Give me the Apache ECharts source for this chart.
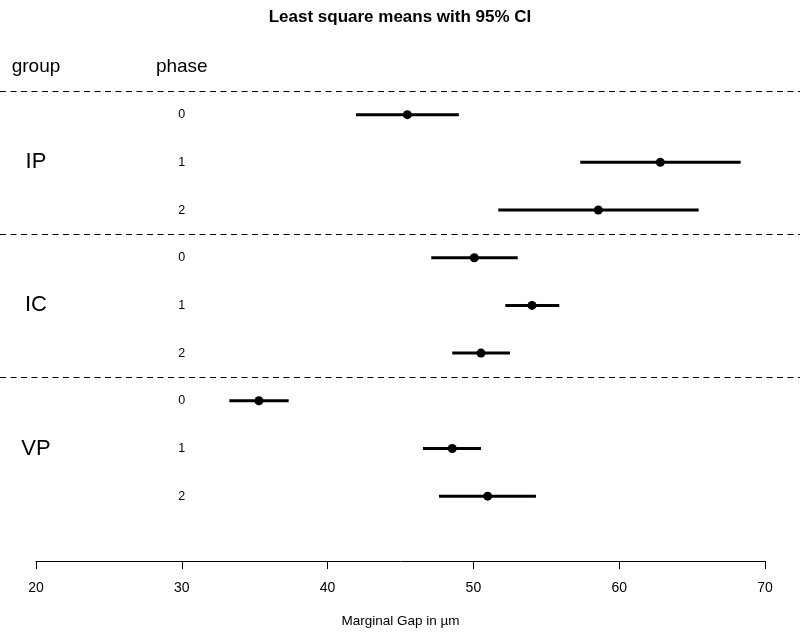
<!DOCTYPE html>
<html>
<head>
<meta charset="utf-8">
<script src="https://cdn.jsdelivr.net/npm/echarts@6/dist/echarts.min.js"></script>
<style>html,body{margin:0;padding:0;background:#fff}#c{width:800px;height:637px}</style>
</head>
<body>
<div id="c"></div>
<script>
// ---- data ----
const groups = ['IP', 'IC', 'VP'];
const phases = ['0', '1', '2', '0', '1', '2', '0', '1', '2'];
const means = [45.47, 62.82, 58.57, 50.06, 54.02, 50.52, 35.29, 48.55, 50.98];
const lower = [41.95, 57.33, 51.71, 47.11, 52.19, 48.55, 33.26, 46.54, 47.64];
const upper = [49.00, 68.33, 65.45, 53.04, 55.89, 52.51, 37.33, 50.52, 54.29];
const xTicks = [20, 30, 40, 50, 60, 70];
const headers = ['group', 'phase'];

// ---- layout helpers ----
const rowPos = phases.map((p, i) => i + 1);           // rows 1..9
const groupRow = groups.map((g, i) => i * 3 + 2);      // middle row of each group
const sepRows = groups.map((g, i) => i * 3 + 0.5);     // separators above each group
const yMax = 10.36;
const FONT = '"Liberation Sans", Arial, sans-serif';

const chart = echarts.init(document.getElementById('c'), null, {renderer: 'canvas'});

const labelSeries = (data, size) => ({
  type: 'scatter', xAxisIndex: 0, yAxisIndex: 0, symbolSize: 0, silent: true,
  itemStyle: {opacity: 1, color: '#000'},
  data: data,
  label: {show: true, position: [0, 0], align: 'center', verticalAlign: 'middle',
          formatter: p => p.name, fontFamily: FONT, fontSize: size, color: '#000'}
});

const option = {
  animation: false,
  backgroundColor: '#fff',
  title: {
    text: 'Least square means with 95% CI',
    left: 'center', top: 4,
    textStyle: {fontFamily: FONT, fontSize: 17, fontWeight: 'bold', color: '#000'}
  },
  grid: [
    {left: 36, right: 35, top: 67, bottom: 76},
    {left: 0, right: 0, top: 67, bottom: 76}
  ],
  xAxis: [
    {
      gridIndex: 0, type: 'value', min: xTicks[0], max: xTicks[xTicks.length - 1], interval: 10,
      name: 'Marginal Gap in \u00b5m', nameLocation: 'middle', nameGap: 53,
      nameTextStyle: {fontFamily: FONT, fontSize: 13.5, color: '#000'},
      axisLine: {show: true, onZero: false, lineStyle: {color: '#000', width: 1}},
      axisTick: {show: true, inside: false, length: 8, lineStyle: {color: '#000', width: 1}},
      axisLabel: {margin: 20, fontFamily: FONT, fontSize: 14, color: '#000'},
      splitLine: {show: false}
    },
    {gridIndex: 1, type: 'value', min: 0, max: 1, show: false}
  ],
  yAxis: [
    {gridIndex: 0, type: 'value', min: 0, max: yMax, inverse: true, show: false},
    {gridIndex: 1, type: 'value', min: 0, max: yMax, inverse: true, show: false}
  ],
  series: [
    // CI bars
    {
      type: 'custom', xAxisIndex: 0, yAxisIndex: 0,
      data: rowPos.map((r, i) => [lower[i], upper[i], r]),
      renderItem: function (params, api) {
        const a = api.coord([api.value(0), api.value(2)]);
        const b = api.coord([api.value(1), api.value(2)]);
        return {type: 'line', shape: {x1: a[0], y1: a[1], x2: b[0], y2: b[1]},
                style: {stroke: '#000', lineWidth: 3}};
      },
      z: 2
    },
    // means
    {
      type: 'scatter', xAxisIndex: 0, yAxisIndex: 0,
      data: rowPos.map((r, i) => [means[i], r]),
      symbol: 'circle', symbolSize: 9,
      itemStyle: {color: '#000', opacity: 1}, z: 3
    },
    // phase labels (column at x=30)
    labelSeries(rowPos.map((r, i) => ({value: [30, r], name: phases[i]})), 12.5),
    // group labels (column at x=20)
    labelSeries(groupRow.map((r, i) => ({value: [20, r], name: groups[i]})), 22),
    // header labels
    labelSeries(headers.map((h, i) => ({value: [xTicks[i], 0], name: h})), 19),
    // dashed separators across full width
    {
      type: 'line', xAxisIndex: 1, yAxisIndex: 1, data: [], silent: true,
      markLine: {
        symbol: 'none', silent: true, label: {show: false},
        lineStyle: {color: '#000', width: 1, type: [6, 4.5]},
        data: sepRows.map(r => ({yAxis: r}))
      }
    }
  ]
};
chart.setOption(option);
</script>
</body>
</html>
